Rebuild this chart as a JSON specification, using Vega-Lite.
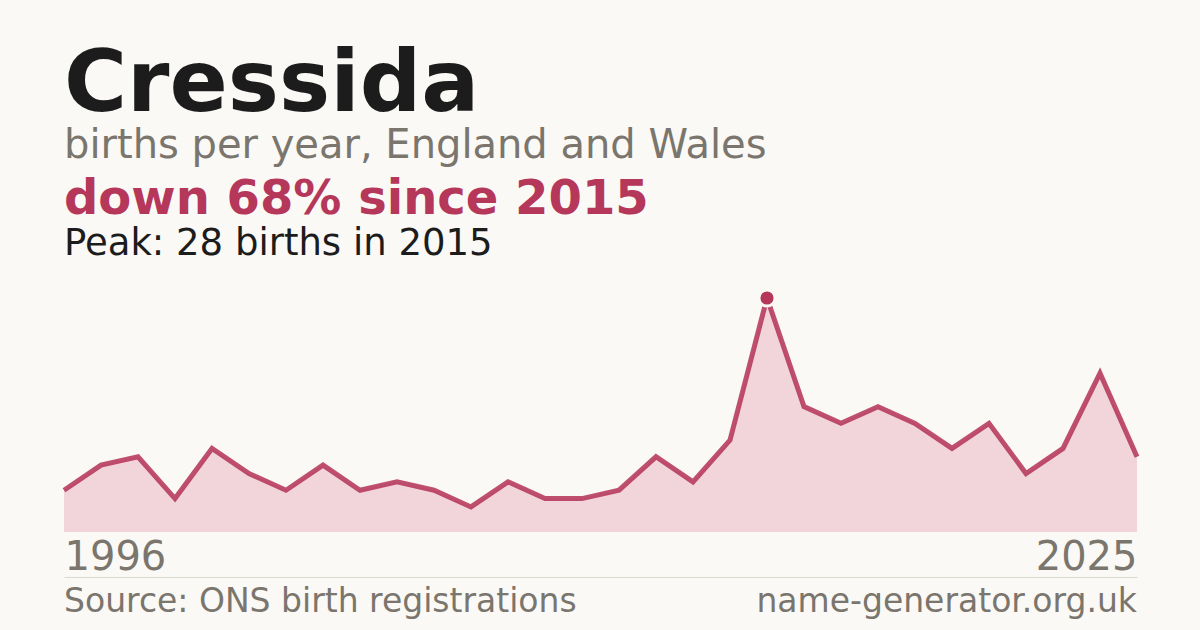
{
  "$schema": "https://vega.github.io/schema/vega-lite/v6.json",
  "background": "#FAF9F5",
  "padding": {"left": 54, "right": 63, "top": 41, "bottom": 0},
  "spacing": 0,
  "config": {
    "font": "DejaVu Sans",
    "view": {"stroke": null}
  },
  "title": {
    "text": "Cressida",
    "subtitle": "births per year, England and Wales",
    "anchor": "start",
    "dx": 10,
    "font": "DejaVu Sans",
    "fontSize": 86,
    "fontWeight": "bold",
    "color": "#1C1C1C",
    "subtitleFont": "DejaVu Sans",
    "subtitleFontSize": 40,
    "subtitleColor": "#7A756D",
    "subtitlePadding": -3,
    "offset": 9
  },
  "datasets": {
    "births": [
      {"year": 1996, "births": 5},
      {"year": 1997, "births": 8},
      {"year": 1998, "births": 9},
      {"year": 1999, "births": 4},
      {"year": 2000, "births": 10},
      {"year": 2001, "births": 7},
      {"year": 2002, "births": 5},
      {"year": 2003, "births": 8},
      {"year": 2004, "births": 5},
      {"year": 2005, "births": 6},
      {"year": 2006, "births": 5},
      {"year": 2007, "births": 3},
      {"year": 2008, "births": 6},
      {"year": 2009, "births": 4},
      {"year": 2010, "births": 4},
      {"year": 2011, "births": 5},
      {"year": 2012, "births": 9},
      {"year": 2013, "births": 6},
      {"year": 2014, "births": 11},
      {"year": 2015, "births": 28},
      {"year": 2016, "births": 15},
      {"year": 2017, "births": 13},
      {"year": 2018, "births": 15},
      {"year": 2019, "births": 13},
      {"year": 2020, "births": 10},
      {"year": 2021, "births": 13},
      {"year": 2022, "births": 7},
      {"year": 2023, "births": 10},
      {"year": 2024, "births": 19},
      {"year": 2025, "births": 9}
    ],
    "footer": [
      {"year": 1996, "label": "Source: ONS birth registrations", "side": "left"},
      {"year": 2025, "label": "name-generator.org.uk", "side": "right"}
    ]
  },
  "vconcat": [
    {
      "title": {
        "text": "down 68% since 2015",
        "subtitle": "Peak: 28 births in 2015",
        "anchor": "start",
        "dx": 10,
        "font": "DejaVu Sans",
        "fontSize": 48,
        "fontWeight": "bold",
        "color": "#B5375A",
        "subtitleFont": "DejaVu Sans",
        "subtitleFontSize": 37,
        "subtitleColor": "#1C1C1C",
        "subtitlePadding": 2,
        "offset": 22
      },
      "width": 1073,
      "height": 234,
      "data": {"name": "births"},
      "encoding": {
        "x": {
          "field": "year",
          "type": "quantitative",
          "scale": {"domain": [1996, 2025], "nice": false, "zero": false},
          "axis": {
            "values": [1996, 2025],
            "format": "d",
            "labelFlush": true,
            "labelFont": "DejaVu Sans",
            "labelFontSize": 40,
            "labelColor": "#7A756D",
            "labelPadding": 5,
            "domain": false,
            "ticks": false,
            "tickSize": 0,
            "grid": false,
            "title": null
          }
        },
        "y": {
          "field": "births",
          "type": "quantitative",
          "scale": {"domain": [0, 28], "nice": false},
          "axis": null
        }
      },
      "layer": [
        {"mark": {"type": "area", "color": "#F1D5DB"}},
        {"mark": {"type": "line", "color": "#B5375A", "strokeWidth": 5, "opacity": 0.88}},
        {
          "transform": [{"filter": "datum.year == 2015"}],
          "mark": {"type": "point", "filled": true, "size": 260, "color": "#B5375A", "stroke": "#FAF9F5", "strokeWidth": 3, "opacity": 1}
        }
      ]
    },
    {
      "width": 1073,
      "height": 56,
      "data": {"name": "footer"},
      "encoding": {
        "x": {
          "field": "year",
          "type": "quantitative",
          "scale": {"domain": [1996, 2025], "nice": false, "zero": false},
          "axis": {
            "orient": "top",
            "domain": true,
            "domainColor": "#DDD9D1",
            "labels": false,
            "ticks": false,
            "grid": false,
            "title": null
          }
        },
        "text": {"field": "label"}
      },
      "layer": [
        {
          "transform": [{"filter": "datum.side == 'left'"}],
          "mark": {"type": "text", "align": "left", "baseline": "alphabetic", "dy": 7, "fontSize": 33, "color": "#7A756D"}
        },
        {
          "transform": [{"filter": "datum.side == 'right'"}],
          "mark": {"type": "text", "align": "right", "baseline": "alphabetic", "dy": 7, "fontSize": 33, "color": "#7A756D"}
        }
      ]
    }
  ]
}
